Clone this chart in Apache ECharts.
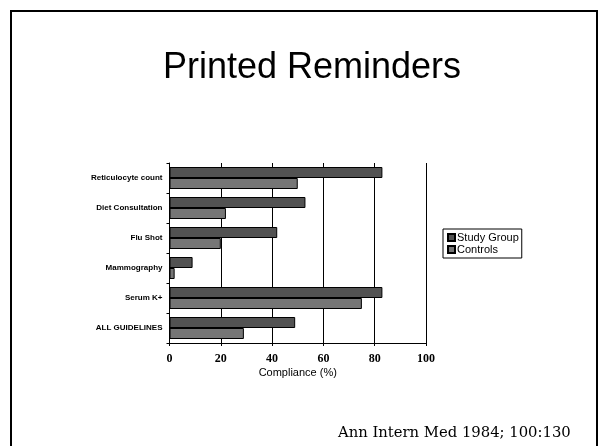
<!DOCTYPE html>
<html>
<head>
<meta charset="utf-8">
<script src="https://cdn.jsdelivr.net/npm/echarts@6/dist/echarts.min.js"></script>
<style>
  html, body { margin: 0; padding: 0; background: #fff; }
  #chart { width: 600px; height: 446px; }
</style>
</head>
<body>
<div id="chart"></div>
<script>
// Guideline categories, listed top to bottom
var categories = ['Reticulocyte count', 'Diet Consultation', 'Flu Shot', 'Mammography', 'Serum K+', 'ALL GUIDELINES'];
// Compliance (%) per group
var studyGroup = [83, 53, 42, 9, 83, 49];
var controls = [50, 22, 20, 2, 75, 29];
var seriesNames = ['Study Group', 'Controls'];
var xTicks = [0, 20, 40, 60, 80, 100];

var chart = echarts.init(document.getElementById('chart'), null, { renderer: 'canvas' });

var sans = '"Liberation Sans", Arial, sans-serif';
var serif = '"Liberation Serif", "Times New Roman", serif';

chart.setOption({
  backgroundColor: '#ffffff',
  animation: false,
  title: {
    text: 'Printed Reminders',
    left: 307,
    top: 45,
    textAlign: 'center',
    textStyle: { fontFamily: sans, fontSize: 36, fontWeight: 'normal', color: '#000' }
  },
  graphic: [
    {
      type: 'rect',
      shape: { x: 11, y: 11, width: 586, height: 450 },
      style: { fill: 'none', stroke: '#000', lineWidth: 2 },
      silent: true
    },
    {
      type: 'text',
      left: 338,
      top: 426,
      style: { text: 'Ann Intern Med 1984; 100:130', font: '14.8px "DejaVu Serif", serif', fill: '#000' }
    }
  ],
  legend: {
    data: seriesNames,
    orient: 'vertical',
    left: 443,
    top: 229,
    padding: [3, 3, 3, 4],
    itemWidth: 7,
    itemHeight: 7,
    itemGap: 1,
    borderColor: '#000',
    borderWidth: 1,
    textStyle: { fontFamily: sans, fontSize: 11, color: '#000', padding: [0, 0, 0, -3] },
    icon: 'rect'
  },
  grid: { left: 169.5, right: 174, top: 163, bottom: 103 },
  xAxis: {
    type: 'value',
    min: 0,
    max: 100,
    interval: 20,
    name: 'Compliance (%)',
    nameLocation: 'middle',
    nameGap: 24,
    nameTextStyle: { fontFamily: sans, fontSize: 11, color: '#000' },
    axisLine: { show: true, lineStyle: { color: '#000', width: 1 } },
    axisTick: { show: true, length: 3, lineStyle: { color: '#000' } },
    axisLabel: {
      margin: 10,
      fontFamily: serif,
      fontWeight: 'bold',
      fontSize: 12,
      color: '#000',
      formatter: function (v) { return xTicks.indexOf(v) >= 0 ? String(v) : ''; }
    },
    splitLine: { show: true, lineStyle: { color: '#000', width: 1 } }
  },
  yAxis: {
    type: 'category',
    data: categories,
    inverse: true,
    axisLine: { show: true, lineStyle: { color: '#000', width: 1 } },
    axisTick: { show: true, length: 3, inside: false, lineStyle: { color: '#000' } },
    axisLabel: { margin: 7, fontFamily: sans, fontWeight: 'bold', fontSize: 8, color: '#000' },
    splitLine: { show: false }
  },
  series: [
    {
      name: seriesNames[0],
      type: 'bar',
      data: studyGroup,
      barWidth: 11,
      barGap: '0%',
      itemStyle: { color: '#525252', borderColor: '#000', borderWidth: 1 }
    },
    {
      name: seriesNames[1],
      type: 'bar',
      data: controls,
      barWidth: 11,
      barGap: '0%',
      itemStyle: { color: '#767676', borderColor: '#000', borderWidth: 1 }
    }
  ]
});
</script>
</body>
</html>
